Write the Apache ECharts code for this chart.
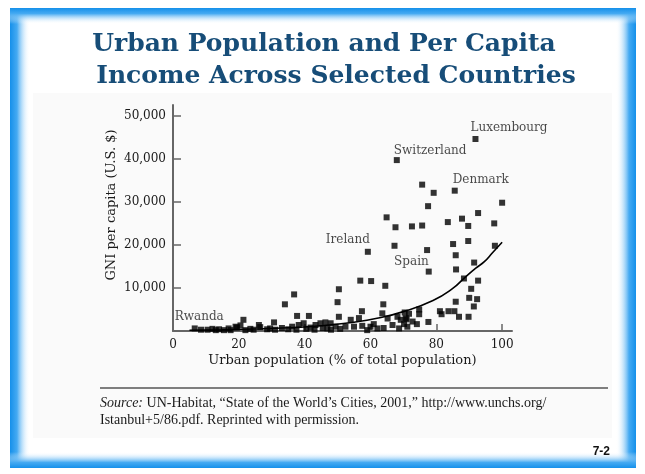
<!DOCTYPE html>
<html>
<head>
<meta charset="utf-8">
<script src="https://cdn.jsdelivr.net/npm/echarts@6/dist/echarts.min.js"></script>
<style>
  html, body { margin: 0; padding: 0; background: #ffffff; }
  #chart { width: 645px; height: 474px; }
</style>
</head>
<body>
<div id="chart"></div>
<script>
// Countries: urban population (% of total) and GNI per capita (U.S. $)
const urbanPct = [
  75.7, 79.2, 77.5, 100, 64.9, 67.6, 72.6, 75.7, 83.5, 87.8, 89.7, 92.7, 97.6,
  67.3, 77.2, 85.1, 89.7, 97.8, 85.9, 91.5, 86.0,
  56.9, 60.2, 64.5, 50.4, 36.8, 88.4, 92.7, 90.6,
  50.0, 63.9, 85.9, 90.0, 92.4, 91.4, 34.0,
  57.4, 37.7, 41.3, 81.1, 81.6, 83.7, 85.5, 86.9, 89.8, 77.6,
  70.4, 71.7, 74.8, 74.8, 71.0, 72.8, 74.1, 70.2,
  50.4, 54.0, 56.5, 47.9, 46.3, 63.6, 65.2, 66.7, 68.2, 69.2, 70.7, 68.7,
  52.4, 55.0, 57.5, 60.0, 62.1, 59.0, 61.0, 71.2, 64.0,
  44.8, 43.3, 39.7, 38.2, 36.2, 41.8, 46.9, 49.4, 37.5, 40.5, 43.0, 45.5, 48.0, 50.8,
  21.4, 30.7, 26.1, 20.5, 19.0,
  8.5, 10.5, 12.0, 13.0, 14.0, 15.5, 16.9, 17.5, 19.4, 22.0, 23.5, 24.5, 26.5, 28.6, 29.5, 31.0, 33.1, 35.0
];
const gniUSD = [
  34000, 32100, 29000, 29800, 26400, 24100, 24300, 24500, 25300, 26100, 24400, 27400, 25000,
  19800, 18800, 20200, 20900, 19800, 17600, 15900, 14300,
  11700, 11600, 10500, 9700, 8500, 12200, 11700, 9800,
  6700, 6200, 6800, 7700, 7400, 5700, 6200,
  4600, 3500, 3500, 4600, 3900, 4600, 4600, 3300, 3300, 2100,
  4300, 4000, 5000, 3900, 2700, 2200, 1600, 1600,
  3300, 2600, 3000, 1800, 2000, 4100, 2900, 1400, 3300, 2600, 3000, 600,
  1000, 1000, 1200, 1000, 600, 200, 1600, 1000, 700,
  1800, 1400, 1800, 1400, 1000, 800, 600, 1000, 300, 500, 300, 700, 300, 500,
  2600, 2000, 1400, 1300, 1000,
  300, 300, 500, 200, 400, 200, 600, 200, 800, 200, 500, 300, 900, 400, 600, 300, 700, 400
];

// Named countries
const namedCountries = ['Luxembourg', 'Switzerland', 'Denmark', 'Ireland', 'Spain', 'Rwanda'];
const namedUrban = [91.9, 68.0, 85.6, 59.2, 77.7, 6.6];
const namedGni = [44600, 39700, 32600, 18400, 13800, 600];

// Trend line
const trendUrban = [5, 15, 25, 35, 45, 55, 62, 70, 79, 85, 88.5, 92, 94.6, 97, 100];
const trendGni = [160, 270, 450, 740, 1230, 2050, 2950, 4500, 7100, 9900, 12300, 14600, 16100, 18100, 20600];

// Axis ticks
const xTicks = [0, 20, 40, 60, 80, 100];
const yTicks = [10000, 20000, 30000, 40000, 50000];

const serif = '"DejaVu Serif", serif';
const ink = '#1a1a1a';

// Label placement for each named country
const labelPlacement = {
  Luxembourg:  { position: [-2, -8], align: 'left' },
  Switzerland: { position: [0, -6], align: 'left' },
  Denmark:     { position: [1, -8], align: 'left' },
  Ireland:     { position: [5, -9], align: 'right' },
  Spain:       { position: [3, -7], align: 'right' },
  Rwanda:      { position: [-17, -9], align: 'left' }
};

const scatterData = urbanPct.map((u, i) => [u, gniUSD[i]]);
const namedData = namedCountries.map((n, i) => ({
  name: n,
  value: [namedUrban[i], namedGni[i]],
  label: {
    show: true,
    formatter: n,
    position: labelPlacement[n].position,
    align: labelPlacement[n].align,
    verticalAlign: 'middle',
    fontFamily: serif,
    fontSize: 12,
    color: ink
  }
}));
const trendData = trendUrban.map((u, i) => [u, trendGni[i]]);

// Slide frame: blue edges fading inward
function edge(x, y, w, h, x1, y1, x2, y2) {
  return {
    type: 'rect', silent: true,
    shape: { x: x, y: y, width: w, height: h },
    style: {
      fill: {
        type: 'linear', x: x1, y: y1, x2: x2, y2: y2,
        colorStops: [
          { offset: 0, color: '#1590ea' },
          { offset: 0.35, color: '#45aaf2' },
          { offset: 1, color: 'rgba(255,255,255,0)' }
        ]
      }
    },
    z: -5
  };
}

const titleFont = 'bold 25px "DejaVu Serif", serif';
const sourceFont = '14px "Liberation Serif", serif';

const chart = echarts.init(document.getElementById('chart'), null, { renderer: 'canvas' });
chart.setOption({
  animation: false,
  backgroundColor: '#ffffff',
  grid: { left: 173, right: 133, top: 105, bottom: 143, containLabel: false },
  xAxis: {
    type: 'value', min: 0, max: 103,
    splitLine: { show: false },
    axisLine: { lineStyle: { color: '#666', width: 2 } },
    axisTick: { inside: true, length: 7, lineStyle: { color: '#666', width: 1.5 }, customValues: xTicks.slice(1) },
    axisLabel: { customValues: xTicks, margin: 8, fontFamily: serif, fontSize: 12, color: ink },
    name: 'Urban population (% of total population)',
    nameLocation: 'middle', nameGap: 23,
    nameTextStyle: { fontFamily: serif, fontSize: 13, color: ink }
  },
  yAxis: {
    type: 'value', min: 0, max: 52500,
    splitLine: { show: false },
    axisLine: { show: true, lineStyle: { color: '#666', width: 2 } },
    axisTick: { show: true, inside: true, length: 8, lineStyle: { color: '#666', width: 1.5 }, customValues: yTicks },
    axisLabel: {
      customValues: yTicks, margin: 7, fontFamily: serif, fontSize: 12, color: ink,
      formatter: v => v.toLocaleString('en-US')
    }
  },
  graphic: [
    edge(10, 8, 20, 460, 0, 0, 1, 0),
    edge(616, 8, 20, 460, 1, 0, 0, 0),
    edge(10, 8, 626, 16, 0, 0, 0, 1),
    edge(10, 452, 626, 16, 0, 1, 0, 0),
    { type: 'rect', silent: true, shape: { x: 33, y: 93, width: 579, height: 345 }, style: { fill: '#fafafa' }, z: -6 },
    {
      type: 'text', x: 324, y: 44,
      style: { text: 'Urban Population and Per Capita', font: titleFont, fill: '#174d78', align: 'center', verticalAlign: 'middle' }
    },
    {
      type: 'text', x: 336, y: 76,
      style: { text: 'Income Across Selected Countries', font: titleFont, fill: '#174d78', align: 'center', verticalAlign: 'middle' }
    },
    {
      type: 'text', x: 112, y: 205, rotation: Math.PI / 2,
      style: { text: 'GNI per capita (U.S. $)', font: '13px "DejaVu Serif", serif', fill: ink, align: 'center', verticalAlign: 'middle' }
    },
    { type: 'line', silent: true, shape: { x1: 100, y1: 388, x2: 608, y2: 388 }, style: { stroke: '#555', lineWidth: 1.5 } },
    {
      type: 'text', x: 100, y: 403,
      style: {
        text: '{i|Source:} UN-Habitat, \u201CState of the World\u2019s Cities, 2001,\u201D http://www.unchs.org/',
        rich: { i: { fontStyle: 'italic', fontFamily: '"Liberation Serif", serif', fontSize: 14, fill: ink } },
        font: sourceFont, fill: ink, verticalAlign: 'middle'
      }
    },
    {
      type: 'text', x: 100, y: 420,
      style: { text: 'Istanbul+5/86.pdf. Reprinted with permission.', font: sourceFont, fill: ink, verticalAlign: 'middle' }
    },
    {
      type: 'text', x: 610, y: 452,
      style: { text: '7-2', font: 'bold 12px "Liberation Sans", Arial, sans-serif', fill: '#111', align: 'right', verticalAlign: 'middle' }
    }
  ],
  series: [
    {
      type: 'scatter', symbol: 'rect', symbolSize: 6,
      itemStyle: { color: '#000' },
      data: scatterData, z: 3
    },
    {
      type: 'scatter', symbol: 'rect', symbolSize: 6,
      itemStyle: { color: '#000' },
      data: namedData, z: 4
    },
    {
      type: 'line', smooth: true, showSymbol: false, symbol: 'none',
      lineStyle: { color: '#000', width: 1.6 },
      data: trendData, z: 2
    }
  ]
});
</script>
</body>
</html>
